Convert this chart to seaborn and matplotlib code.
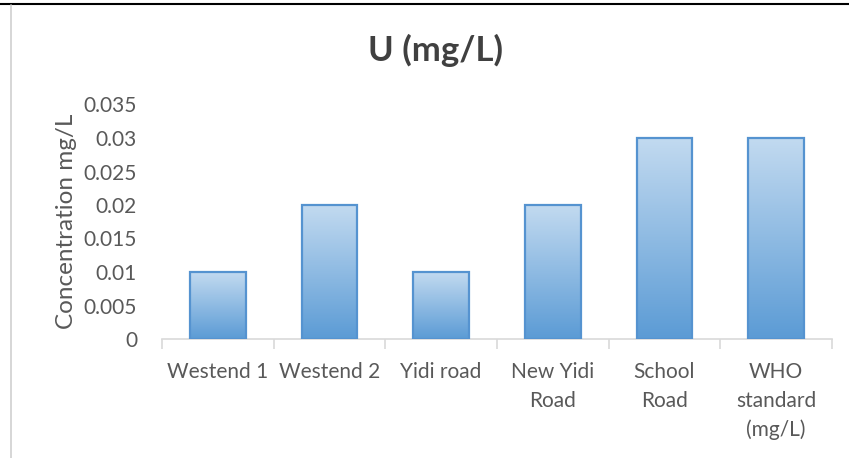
import numpy as np
import pandas as pd
import matplotlib
matplotlib.use("Agg")
import matplotlib.pyplot as plt
import seaborn as sns
from matplotlib.lines import Line2D
from matplotlib.colors import LinearSegmentedColormap

sites = ["Westend 1", "Westend 2", "Yidi road", "New Yidi\nRoad", "School\nRoad",
         "WHO\nstandard\n(mg/L)"]
uranium = [0.01, 0.02, 0.01, 0.02, 0.03, 0.03]
y_ticks = [0, 0.005, 0.01, 0.015, 0.02, 0.025, 0.03, 0.035]
y_tick_labels = ["0", "0.005", "0.01", "0.015", "0.02", "0.025", "0.03", "0.035"]

df = pd.DataFrame({"site": sites, "U": uranium})

sns.set_theme(style="white")
plt.rcParams["font.family"] = ["Lato", "DejaVu Sans"]

text_grey = "#595959"
fig = plt.figure(figsize=(8.49, 4.58), dpi=100)
ax = fig.add_axes([162 / 849, 1 - 339 / 458, (832 - 162) / 849, (339 - 104.5) / 458])

sns.barplot(data=df, x="site", y="U", ax=ax, width=0.5, color="#5B9BD5",
            edgecolor="#5593D0", linewidth=1.6)

# vertical gradient fill inside each bar, light at the top, deeper blue at the base
grad = LinearSegmentedColormap.from_list("bar_grad", ["#5B9BD5", "#C2DAF0"])
gradient = np.linspace(0, 1, 256).reshape(-1, 1)
for patch in ax.patches:
    x0, y0 = patch.get_x(), patch.get_y()
    w, h = patch.get_width(), patch.get_height()
    patch.set_facecolor("none")
    patch.set_zorder(3)
    im = ax.imshow(gradient, cmap=grad, aspect="auto", origin="lower",
                   extent=[x0, x0 + w, y0, y0 + h], zorder=2, interpolation="bilinear")
    im.set_clip_path(patch)

ax.set_xlim(-0.5, 5.5)
ax.set_ylim(0, 0.035)
ax.set_yticks(y_ticks)
ax.set_yticklabels(y_tick_labels)
ax.set_xlabel("")
ax.set_ylabel("Concentration mg/L", fontsize=17.5, color=text_grey, labelpad=5)

for s in ["top", "right", "left"]:
    ax.spines[s].set_visible(False)
ax.spines["bottom"].set_color("#D9D9D9")
ax.spines["bottom"].set_linewidth(1.2)

ax.set_xticks(np.arange(-0.5, 6, 1), minor=True)
ax.tick_params(axis="x", which="minor", length=7, color="#D9D9D9", width=1.2, direction="out", bottom=True)
ax.tick_params(axis="x", which="major", length=0, pad=16.5, labelsize=15, labelcolor=text_grey)
ax.tick_params(axis="y", length=0, pad=18, labelsize=15, labelcolor=text_grey)
for lbl in ax.get_xticklabels():
    lbl.set_linespacing(1.55)
    lbl.set_verticalalignment("top")

fig.text(436 / 849, 1 - 50 / 458, "U (mg/L)", ha="center", va="center",
         fontsize=25, fontweight="bold", color="#404040")

# page borders around the chart
fig.add_artist(Line2D([0, 1], [1 - 4 / 458, 1 - 4 / 458], color="black", lw=1.5,
                      transform=fig.transFigure))
fig.add_artist(Line2D([10.5 / 849, 10.5 / 849], [0, 1 - 5 / 458], color="#D0D0D0", lw=1.2,
                      transform=fig.transFigure))

fig.savefig("out.png", dpi=100, facecolor="white")
